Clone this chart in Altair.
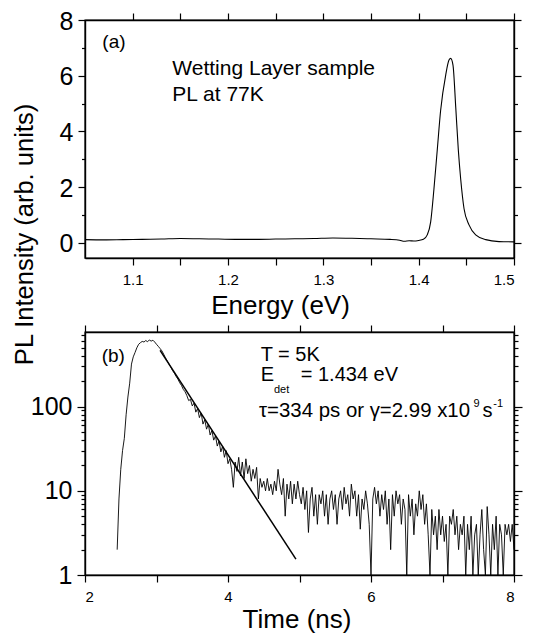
import altair as alt
import pandas as pd

FONT = "Liberation Sans"

# ---------------- Panel (a): PL spectrum at 77K ----------------
energy = [1.05, 1.07, 1.09, 1.11, 1.13, 1.15, 1.17, 1.19, 1.21, 1.23, 1.25, 1.27,
          1.29, 1.31, 1.33, 1.35, 1.37, 1.38, 1.385, 1.39, 1.395, 1.40, 1.405,
          1.409, 1.4126, 1.416, 1.4195, 1.423, 1.4284, 1.4318, 1.4336, 1.436,
          1.4389, 1.4416, 1.4441, 1.4476, 1.4528, 1.4598, 1.4703, 1.4843, 1.50]
pl_77k = [0.11, 0.10, 0.11, 0.12, 0.13, 0.15, 0.14, 0.13, 0.12, 0.12, 0.13, 0.14,
          0.15, 0.17, 0.16, 0.14, 0.12, 0.09, 0.05, 0.07, 0.06, 0.08, 0.12,
          0.28, 0.75, 1.92, 3.33, 4.74, 6.03, 6.56, 6.62, 6.38,
          4.86, 3.33, 2.28, 1.22, 0.64, 0.28, 0.11, 0.04, 0.03]

energy_ticks = [1.1, 1.15, 1.2, 1.25, 1.3, 1.35, 1.4, 1.45, 1.5]
pl_ticks = [0, 1, 2, 3, 4, 5, 6, 7, 8]

# ---------------- Panel (b): time-resolved PL at 5K ----------------
decay = [
    # 2.450 - 3.000
    2.0, 8, 18, 30, 42, 80, 130, 190, 320, 390, 440, 500, 550, 575, 595, 585,
    610, 590, 620, 600, 615, 585, 550,
    # 3.025 - 4.000
    520, 490, 460, 420, 380, 350, 320, 295, 268, 250, 228, 212, 192, 178, 160,
    150, 135, 118, 122, 102, 110, 86, 95, 74, 84, 62, 70, 54, 62, 46, 52, 40,
    45, 34, 39, 29, 34, 25, 30, 21,
    # 4.025 - 5.000
    24, 18, 11, 22, 17, 25, 15, 22, 14, 24, 16, 20, 13, 18, 14, 19, 8, 14, 11,
    13, 10, 14, 10, 12, 9, 13, 10, 18, 12, 9, 14, 5, 12, 8, 13, 7, 12, 8, 13, 9,
    # 5.025 - 6.000
    7, 11, 6, 10, 3.2, 8, 11, 5, 9, 4, 9, 7, 10, 5, 9, 4, 8, 10, 6, 9, 4, 8, 10,
    6, 11, 7, 9, 5, 12, 8, 10, 5, 9, 3.5, 8, 6, 10, 7, 4, 1,
    # 6.025 - 7.000
    8, 11, 7, 10, 5, 9, 6, 10, 4, 8, 2, 9, 5, 10, 7, 9, 4, 8, 6, 1, 9, 5, 8, 3,
    7, 5, 10, 6, 9, 4, 7, 3, 1, 6, 3, 5, 2, 6, 3, 5,
    # 7.025 - 8.000
    2.5, 4, 1, 5, 4, 6, 3, 5, 2, 4, 3, 5, 1, 4, 2, 5, 1, 3, 4, 1, 3, 6, 2, 1,
    6.5, 3, 1, 4, 2, 5, 1, 4, 3, 1, 4, 3, 4, 2.5, 4, 2,
]
time_ns = [round(2.45 + 0.025 * i, 3) for i in range(len(decay))]

fit_time = [3.05, 4.95]
fit_value = [465, 1.54]

time_ticks = [2, 3, 4, 5, 6, 7, 8]
log_ticks = [1, 2, 3, 4, 5, 6, 7, 8, 9, 10, 20, 30, 40, 50, 60, 70, 80, 90,
             100, 200, 300, 400, 500, 600, 700]

# ---------------- Annotations ----------------
ann_a_x = [1.0682, 1.1416, 1.1416]
ann_a_y = [6.98, 6.03, 5.09]
ann_a_text = ["(a)", "Wetting Layer sample", "PL at 77K"]
ann_a_size = [19, 21, 21]

ann_b_x = [2.2336, 4.457, 4.457, 4.643, 5.017, 4.434, 7.435, 7.56, 7.71]
ann_b_y = [343.5, 353, 200, 145.6, 200, 74.6, 98, 74.6, 100]
ann_b_text = ["(b)", "T = 5K", "E", "det", "= 1.434 eV",
              "\u03c4=334 ps or \u03b3=2.99 x10", "9", "s", "-1"]
ann_b_size = [19, 20, 20, 11, 20, 20.4, 11, 20, 11]

W = 429
H1 = 238
H2 = 243

df_a = pd.DataFrame({"E": energy, "I": pl_77k})
df_b = pd.DataFrame({"t": time_ns, "I": decay})
df_fit = pd.DataFrame({"t": fit_time, "I": fit_value})
df_ann_a = pd.DataFrame({"E": ann_a_x, "I": ann_a_y, "label": ann_a_text, "size": ann_a_size})
df_ann_b = pd.DataFrame({"t": ann_b_x, "I": ann_b_y, "label": ann_b_text, "size": ann_b_size})

xa_scale = alt.Scale(domain=[1.05, 1.5], nice=False, zero=False)
ya_scale = alt.Scale(domain=[-0.55, 8], nice=False, zero=False)
xb_scale = alt.Scale(domain=[2, 8], nice=False, zero=False)
yb_scale = alt.Scale(type="log", domain=[1, 770], nice=False)

pl_minor = "datum.value % 2 != 0"
log_minor = "datum.value != 1 && datum.value != 10 && datum.value != 100"

# ---- top panel ----
line_a = alt.Chart(df_a).mark_line(color="black", strokeWidth=1.1, interpolate="monotone").encode(
    x=alt.X("E:Q", scale=xa_scale, axis=alt.Axis(
        orient="bottom", values=energy_ticks,
        labelExpr="round(datum.value*100) % 10 == 0 ? format(datum.value, '.1f') : ''",
        tickSize=7, labelPadding=7, labelFontSize=15,
        title="Energy (eV)", titleFontSize=26, titleX=195, titleY=55,
        titleAlign="center", titleBaseline="alphabetic")),
    y=alt.Y("I:Q", scale=ya_scale, axis=alt.Axis(
        orient="left", values=pl_ticks,
        labelExpr="datum.value % 2 == 0 ? datum.value : ''",
        tickSize={"condition": {"test": pl_minor, "value": 3.5}, "value": 7},
        labelPadding=5, labelFontSize=25, labelOffset=1,
        title="PL Intensity (arb. units)", titleFontSize=25.5, titleAngle=270,
        titleX=-53, titleY=214, titleAlign="center", titleBaseline="alphabetic")),
)

mirror_a = alt.Chart(df_a).mark_line(opacity=0).encode(
    x=alt.X("E:Q", scale=xa_scale, axis=alt.Axis(
        orient="top", values=energy_ticks, labels=False, tickSize=7, title=None)),
    y=alt.Y("I:Q", scale=ya_scale, axis=alt.Axis(
        orient="right", values=pl_ticks, labels=False,
        tickSize={"condition": {"test": pl_minor, "value": 3.5}, "value": 7}, title=None)),
)

text_a = alt.Chart(df_ann_a).mark_text(align="left", baseline="alphabetic", font=FONT,
                                       color="black").encode(
    x=alt.X("E:Q", scale=xa_scale, axis=None),
    y=alt.Y("I:Q", scale=ya_scale, axis=None),
    text="label:N",
    size=alt.Size("size:Q", scale=None),
)

top = alt.layer(line_a, mirror_a, text_a).resolve_axis(x="independent", y="independent").properties(
    width=W, height=H1)

# ---- bottom panel ----
line_b = alt.Chart(df_b).mark_line(color="black", strokeWidth=0.9, clip=True).encode(
    x=alt.X("t:Q", scale=xb_scale, axis=alt.Axis(
        orient="bottom", values=time_ticks,
        labelExpr="datum.value % 2 == 0 ? datum.value : ''",
        tickSize=7, labelPadding=7, labelFontSize=15,
        title="Time (ns)", titleFontSize=26, titleX=211.5, titleY=52.7,
        titleAlign="center", titleBaseline="alphabetic")),
    y=alt.Y("I:Q", scale=yb_scale, axis=alt.Axis(
        orient="left", values=log_ticks,
        labelExpr="(datum.value == 1 || datum.value == 10 || datum.value == 100) ? datum.value : ''",
        tickSize={"condition": {"test": log_minor, "value": 4}, "value": 8},
        labelPadding=5, labelFontSize=25, title=None)),
)

fit_b = alt.Chart(df_fit).mark_line(color="black", strokeWidth=1.5).encode(
    x=alt.X("t:Q", scale=xb_scale, axis=None),
    y=alt.Y("I:Q", scale=yb_scale, axis=None),
)

mirror_b = alt.Chart(df_b).mark_line(opacity=0).encode(
    x=alt.X("t:Q", scale=xb_scale, axis=alt.Axis(
        orient="top", values=time_ticks, labels=False, tickSize=7, title=None)),
    y=alt.Y("I:Q", scale=yb_scale, axis=alt.Axis(
        orient="right", values=log_ticks, labels=False,
        tickSize={"condition": {"test": log_minor, "value": 4}, "value": 8}, title=None)),
)

text_b = alt.Chart(df_ann_b).mark_text(align="left", baseline="alphabetic", font=FONT,
                                       color="black").encode(
    x=alt.X("t:Q", scale=xb_scale, axis=None),
    y=alt.Y("I:Q", scale=yb_scale, axis=None),
    text="label:N",
    size=alt.Size("size:Q", scale=None),
)

bottom = alt.layer(line_b, fit_b, mirror_b, text_b).resolve_axis(
    x="independent", y="independent").properties(width=W, height=H2)

chart = alt.vconcat(top, bottom, spacing=74, bounds="flush").properties(
    padding={"left": 3, "top": 0, "right": 5, "bottom": 0}
).configure_view(
    stroke="black", strokeWidth=1.4
).configure_axis(
    grid=False, domainColor="black", domainWidth=1.4, tickColor="black", tickWidth=1.2,
    labelColor="black", titleColor="black", labelFont=FONT, titleFont=FONT,
    titleFontWeight="normal"
).configure_concat(spacing=74)

chart.save("out.html", embed_options={"renderer": "svg", "actions": False})
